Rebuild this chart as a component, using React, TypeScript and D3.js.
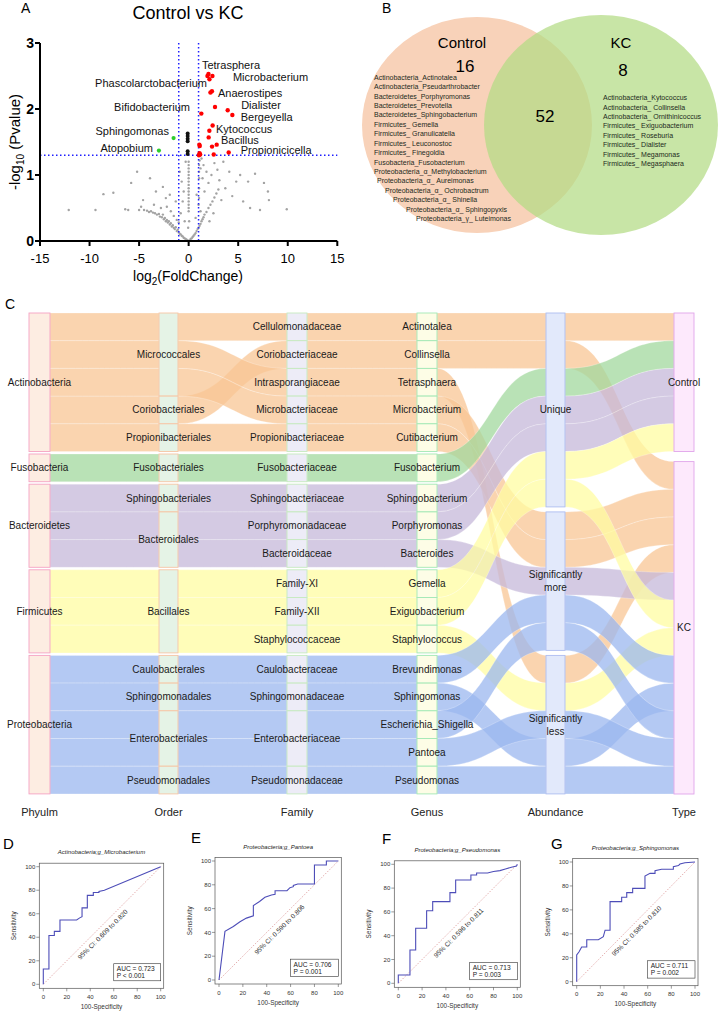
import React from 'react'
import * as d3 from 'd3'

const FONT = 'Liberation Sans, Arial, sans-serif'

// ---------- A: volcano ----------
const volcanoTicksX = [-15, -10, -5, 0, 5, 10, 15]
const volcanoTicksY = [0, 1, 2, 3]
const upPoints = [
	[1.9, 2.5], [2.1, 2.45], [2.4, 2.5], [2.0, 2.53], [2.2, 2.25], [2.35, 2.27],
	[2.66, 2.03], [1.28, 1.93], [3.94, 1.98], [4.41, 1.91], [2.42, 1.75], [2.09, 1.67],
	[2.02, 1.57], [1.08, 1.46], [1.12, 1.44], [2.83, 1.46], [2.36, 1.43], [1.1, 1.33],
	[1.16, 1.31], [1.04, 1.3], [2.53, 1.31], [4.04, 1.34]
]
const downPoints = [[-1.52, 1.56], [-3.0, 1.37]]
const nsPoints = [[-0.1, 1.63], [-0.1, 1.59], [-0.1, 1.55], [-0.1, 1.51], [-0.1, 1.36], [-0.1, 1.32]]
const grayPoints = [
	[-4.5, 0.47], [-4.2, 0.46], [-4.0, 0.44], [-3.8, 0.45], [-3.6, 0.43], [-3.4, 0.42], [-3.2, 0.4],
	[-3.0, 0.41], [-2.9, 0.37], [-2.7, 0.36], [-2.6, 0.4], [-2.5, 0.33], [-2.4, 0.35], [-2.3, 0.3],
	[-2.2, 0.32], [-2.1, 0.28], [-2.0, 0.3], [-1.9, 0.25], [-1.8, 0.27], [-1.7, 0.22], [-1.6, 0.24],
	[-1.5, 0.2], [-1.4, 0.18], [-1.3, 0.21], [-1.2, 0.15], [-1.1, 0.17], [-1.0, 0.13], [-0.9, 0.11],
	[-0.8, 0.1], [-0.7, 0.08], [-0.6, 0.07], [-0.5, 0.05], [-0.4, 0.04], [-0.3, 0.03], [-0.2, 0.02],
	[-0.1, 0.01], [-3.5, 0.55], [-2.8, 0.5], [-2.2, 0.52], [-1.8, 0.45], [-1.5, 0.38], [-1.2, 0.32],
	[-1.0, 0.28], [-0.8, 0.42], [-0.6, 0.6], [-0.7, 0.9], [-0.5, 0.75], [-0.4, 0.3], [-1.3, 0.6],
	[-1.9, 0.7], [-0.9, 1.05], [-0.3, 1.2], [-12.1, 0.47], [-9.4, 0.47], [-8.6, 0.71], [-7.6, 0.73],
	[-6.4, 0.48], [-6.1, 0.47], [-5.8, 0.88], [-5.2, 1.05], [-5.0, 0.47], [-4.8, 0.52], [-4.6, 0.62],
	[-3.9, 0.95], [-3.3, 0.75], [-2.6, 0.82], [-2.3, 0.65], [0.1, 0.01], [0.2, 0.03], [0.3, 0.04],
	[0.4, 0.06], [0.5, 0.08], [0.6, 0.1], [0.7, 0.12], [0.8, 0.15], [0.9, 0.18], [1.0, 0.2], [1.1, 0.23],
	[1.2, 0.26], [1.3, 0.3], [1.4, 0.33], [1.5, 0.36], [1.6, 0.4], [1.8, 0.44], [2.0, 0.5], [2.2, 0.55],
	[2.4, 0.6], [2.6, 0.66], [2.8, 0.72], [3.0, 0.78], [1.1, 1.22], [1.3, 1.25], [1.2, 1.1], [1.5, 1.15],
	[1.4, 0.95], [1.8, 1.05], [2.0, 0.88], [1.6, 0.75], [2.3, 1.0], [2.6, 1.18], [2.9, 1.08], [3.1, 0.92],
	[3.3, 0.62], [3.5, 1.2], [3.7, 0.8], [4.1, 1.05], [4.4, 0.68], [4.8, 0.9], [5.2, 1.0], [5.5, 0.6],
	[6.0, 0.9], [6.2, 0.5], [6.7, 1.02], [7.2, 0.47], [7.6, 0.88], [8.0, 0.75], [8.1, 0.62], [9.9, 0.48],
	[1.0, 0.55], [0.8, 0.7], [0.7, 0.35], [1.2, 0.45], [2.1, 0.3], [2.5, 0.42], [0, 0.45], [0, 0.5],
	[0, 0.55], [0, 0.6], [0, 0.65], [0, 0.7], [0, 0.75], [0, 0.8], [0, 0.85], [0, 0.9], [0, 0.95],
	[0, 1.0], [0, 1.05], [0, 1.1], [0, 1.15], [0, 1.2], [0.05, 0.3], [-0.05, 0.2], [1.05, 0.65],
	[1.05, 0.8], [1.05, 0.95], [1.05, 1.05], [1.05, 1.15]
]
const volcanoLabels = [
	{ text: 'Tetrasphera', x: 1.34, y: 2.67, anchor: 'start' },
	{ text: 'Microbacterium', x: 4.47, y: 2.49, anchor: 'start' },
	{ text: 'Phascolarctobacterium', x: 1.85, y: 2.39, anchor: 'end' },
	{ text: 'Anaerostipes', x: 2.96, y: 2.24, anchor: 'start' },
	{ text: 'Bifidobacterium', x: 0.13, y: 2.03, anchor: 'end' },
	{ text: 'Dialister', x: 5.3, y: 2.06, anchor: 'start' },
	{ text: 'Bergeyella', x: 5.25, y: 1.88, anchor: 'start' },
	{ text: 'Kytococcus', x: 2.76, y: 1.7, anchor: 'start' },
	{ text: 'Sphingomonas', x: -1.99, y: 1.67, anchor: 'end' },
	{ text: 'Bacillus', x: 3.26, y: 1.53, anchor: 'start' },
	{ text: 'Atopobium', x: -3.6, y: 1.41, anchor: 'end' },
	{ text: 'Propionicicella', x: 5.25, y: 1.38, anchor: 'start' }
]

// ---------- B: venn ----------
const vennSets = ['Control', 'KC']
const vennCounts = [16, 8, 52]
const controlOnly = [
	'Actinobacteria_Actinotalea', 'Actinobacteria_Pseudarthrobacter', 'Bacteroidetes_Porphyromonas',
	'Bacteroidetes_Prevotella', 'Bacteroidetes_Sphingobacterium', 'Firmicutes_ Gemella',
	'Firmicutes_ Granulicatella', 'Firmicutes_ Leuconostoc', 'Firmicutes_ Finegoldia',
	'Fusobacteria_Fusobacterium', 'Proteobacteria_α_Methylobacterium', 'Proteobacteria_α_ Aureimonas',
	'Proteobacteria_α_ Ochrobactrum', 'Proteobacteria_α_ Shinella', 'Proteobacteria_α_ Sphingopyxis',
	'Proteobacteria_γ_ Luteimonas'
]
const kcOnly = [
	'Actinobacteria_Kytococcus', 'Actinobacteria_ Collinsella', 'Actinobacteria_ Ornithinicoccus',
	'Firmicutes_ Exiguobacterium', 'Firmicutes_ Roseburia', 'Firmicutes_ Dialister',
	'Firmicutes_ Megamonas', 'Firmicutes_ Megasphaera'
]

// ---------- C: sankey ----------
const phyla = ['Actinobacteria', 'Fusobacteria', 'Bacteroidetes', 'Firmicutes', 'Proteobacteria']
const orders = [
	'Micrococcales', 'Coriobacteriales', 'Propionibacteriales', 'Fusobacteriales', 'Sphingobacteriales',
	'Bacteroidales', 'Bacillales', 'Caulobacterales', 'Sphingomonadales', 'Enterobacteriales', 'Pseudomonadales'
]
const families = [
	'Cellulomonadaceae', 'Coriobacteriaceae', 'Intrasporangiaceae', 'Microbacteriaceae', 'Propionibacteriaceae',
	'Fusobacteriaceae', 'Sphingobacteriaceae', 'Porphyromonadaceae', 'Bacteroidaceae', 'Family-XI',
	'Family-XII', 'Staphylococcaceae', 'Caulobacteraceae', 'Sphingomonadaceae', 'Enterobacteriaceae',
	'Pseudomonadaceae'
]
const genera = [
	'Actinotalea', 'Collinsella', 'Tetrasphaera', 'Microbacterium', 'Cutibacterium', 'Fusobacterium',
	'Sphingobacterium', 'Porphyromonas', 'Bacteroides', 'Gemella', 'Exiguobacterium', 'Staphylococcus',
	'Brevundimonas', 'Sphingomonas', 'Escherichia_Shigella', 'Pantoea', 'Pseudomonas'
]
const abundance = ['Unique', 'Significantly more', 'Significantly less']
const types = ['Control', 'KC']
const genusPhylum = [0, 0, 0, 0, 0, 1, 2, 2, 2, 3, 3, 3, 4, 4, 4, 4, 4]
const genusOrder = [0, 1, 0, 0, 2, 3, 4, 5, 5, 6, 6, 6, 7, 8, 9, 9, 10]
const genusFamily = [0, 1, 2, 3, 4, 5, 6, 7, 8, 9, 10, 11, 12, 13, 14, 14, 15]
const genusAbundance = [0, 0, 2, 1, 1, 0, 0, 0, 1, 0, 0, 2, 1, 2, 1, 2, 2]
const genusType = [0, 1, 1, 1, 1, 0, 0, 0, 1, 0, 1, 1, 1, 1, 1, 1, 1]
const abundanceLaneOrder = [
	'Actinotalea', 'Collinsella', 'Fusobacterium', 'Sphingobacterium', 'Porphyromonas', 'Gemella',
	'Exiguobacterium', 'Microbacterium', 'Cutibacterium', 'Bacteroides', 'Brevundimonas',
	'Escherichia_Shigella', 'Tetrasphaera', 'Staphylococcus', 'Pantoea', 'Sphingomonas', 'Pseudomonas'
]
const typeLaneOrder = [
	'Actinotalea', 'Fusobacterium', 'Sphingobacterium', 'Porphyromonas', 'Gemella', 'Collinsella',
	'Microbacterium', 'Cutibacterium', 'Tetrasphaera', 'Bacteroides', 'Exiguobacterium', 'Staphylococcus',
	'Brevundimonas', 'Sphingomonas', 'Escherichia_Shigella', 'Pantoea', 'Pseudomonas'
]
const columnTitles = ['Phyulm', 'Order', 'Family', 'Genus', 'Abundance', 'Type']

// ---------- D-G: ROC ----------
const rocD = [
	[0, 0], [0, 13], [4.8, 13], [4.8, 41.5], [9.4, 41.5], [9.4, 45], [14.2, 45], [14.2, 54.7], [28.4, 54.7],
	[31, 56.5], [33, 57.5], [33, 65], [37.5, 65], [37.5, 75.6], [42.6, 75.6], [42.6, 78], [47.4, 78],
	[47.4, 79], [52, 80], [100, 100]
]
const rocE = [
	[0, 0], [5, 40.9], [12, 45], [17.6, 49], [23, 52], [28.8, 54], [28.8, 62.5], [34, 66], [38.5, 69.5],
	[44, 71.4], [47, 72], [47, 75], [57, 75], [59.5, 77.6], [62.3, 78.4], [62.3, 79.5], [66, 80.7],
	[80, 80.7], [80, 96.6], [90, 96.6], [90, 100], [100, 100]
]
const rocF = [
	[0, 0], [0, 7], [9.8, 7], [9.8, 28], [14.6, 28], [14.6, 46.2], [23.8, 46.2], [23.8, 61], [28.9, 61],
	[28.9, 68.6], [43.4, 68.6], [43.4, 76.2], [48.2, 76.2], [48.2, 86.8], [61, 86.8], [61, 91], [65.8, 91],
	[65.8, 92.7], [75, 92.7], [80, 94], [85.4, 94.7], [90, 96], [95, 97.5], [99.4, 98.6], [100, 100]
]
const rocG = [
	[0, 0], [0, 22.3], [2, 25], [4.2, 29], [8.5, 29], [8.5, 35], [18.3, 35], [22.5, 37.6], [24, 43],
	[28.2, 43], [28.2, 66.9], [38, 66.9], [38, 70.5], [42.3, 70.5], [42.3, 74.4], [47.3, 74.4], [47.3, 78],
	[57.7, 78], [57.7, 88.3], [62, 90.5], [66.2, 90.5], [66.2, 92.8], [71.8, 93.9], [81.7, 93.9],
	[81.7, 96], [86, 97], [87.3, 98.3], [91.5, 99.4], [100, 100]
]
const rocTitles = [
	'Actinobacteria;g_Microbacterium', 'Proteobacteria;g_Pantoea', 'Proteobacteria;g_Pseudomonas',
	'Proteobacteria;g_Sphingomonas'
]
const rocAuc = ['AUC = 0.723', 'AUC = 0.706', 'AUC = 0.713', 'AUC = 0.711']
const rocP = ['P < 0.001', 'P = 0.001', 'P = 0.003', 'P = 0.002']
const rocCI = [
	'95% CI: 0.609 to 0.820', '95% CI: 0.590 to 0.806', '95% CI: 0.596 to 0.811', '95% CI: 0.585 to 0.810'
]
const rocTicks = [0, 20, 40, 60, 80, 100]

// ---------------------------------------------------------------

const Volcano = () => {
	const x = d3.scaleLinear().domain([-15, 15]).range([40, 337.3])
	const y = d3.scaleLinear().domain([0, 3]).range([241, 43])
	const blue = '#1f1fff'
	return (
		<g>
			<text x={21} y={13} fontSize={14} fontFamily={FONT}>A</text>
			<text x={188} y={19} fontSize={18} textAnchor="middle" fontFamily={FONT}>Control vs KC</text>
			{grayPoints.map((d, i) => (
				<circle key={'g' + i} cx={x(d[0])} cy={y(d[1])} r={1.2} fill="#a3a3a3" />
			))}
			<line x1={x(-1)} x2={x(-1)} y1={y(3)} y2={y(0)} stroke={blue} strokeWidth={1.5} strokeDasharray="1.5 2.5" />
			<line x1={x(1)} x2={x(1)} y1={y(3)} y2={y(0)} stroke={blue} strokeWidth={1.5} strokeDasharray="1.5 2.5" />
			<line x1={x(-15)} x2={x(15)} y1={y(1.3)} y2={y(1.3)} stroke={blue} strokeWidth={1.5} strokeDasharray="1.5 2.5" />
			{nsPoints.map((d, i) => (
				<circle key={'n' + i} cx={x(d[0])} cy={y(d[1])} r={2} fill="#111" />
			))}
			{downPoints.map((d, i) => (
				<circle key={'d' + i} cx={x(d[0])} cy={y(d[1])} r={2.1} fill="#2ecc2e" />
			))}
			{upPoints.map((d, i) => (
				<circle key={'u' + i} cx={x(d[0])} cy={y(d[1])} r={2.2} fill="#ff0000" />
			))}
			{volcanoLabels.map(l => (
				<text key={l.text} x={x(l.x)} y={y(l.y)} dy="0.35em" fontSize={11} textAnchor={l.anchor}
					fontFamily={FONT} fill="#111">{l.text}</text>
			))}
			<line x1={x(-15)} x2={x(15)} y1={y(0)} y2={y(0)} stroke="#000" strokeWidth={2} />
			<line x1={x(-15)} x2={x(-15)} y1={y(0) + 1} y2={y(3)} stroke="#000" strokeWidth={2} />
			{volcanoTicksX.map(t => (
				<g key={'tx' + t}>
					<line x1={x(t)} x2={x(t)} y1={y(0)} y2={y(0) + 5} stroke="#000" strokeWidth={2} />
					<text x={x(t)} y={263} fontSize={13} textAnchor="middle" fontFamily={FONT}>{t}</text>
				</g>
			))}
			{volcanoTicksY.map(t => (
				<g key={'ty' + t}>
					<line x1={x(-15) - 5} x2={x(-15)} y1={y(t)} y2={y(t)} stroke="#000" strokeWidth={2} />
					<text x={34} y={y(t)} dy="0.36em" fontSize={14} fontWeight="bold" textAnchor="end" fontFamily={FONT}>{t}</text>
				</g>
			))}
			<text x={188} y={281} fontSize={14} textAnchor="middle" fontFamily={FONT}>
				log<tspan dy={4} fontSize={10}>2</tspan><tspan dy={-4}>(FoldChange)</tspan>
			</text>
			<text transform="translate(20,142) rotate(-90)" fontSize={15} textAnchor="middle" fontFamily={FONT}>
				-log<tspan dy={4} fontSize={10}>10</tspan><tspan dy={-4}> (Pvalue)</tspan>
			</text>
		</g>
	)
}

const Venn = () => {
	const controlIndent = [0, 0, 0, 0, 0, 0, 0, 0, 0, 0, 0, 3, 11, 19, 32, 42]
	return (
		<g fontFamily={FONT}>
			<text x={382} y={13} fontSize={14}>B</text>
			<ellipse cx={477} cy={125} rx={115} ry={108} fill="#f8d2b9" />
			<ellipse cx={601} cy={125} rx={117} ry={110} fill="#b3db84" fillOpacity={0.72} />
			<text x={462} y={48} fontSize={15} textAnchor="middle">{vennSets[0]}</text>
			<text x={621} y={48} fontSize={15} textAnchor="middle">{vennSets[1]}</text>
			<text x={465} y={72} fontSize={17} textAnchor="middle">{vennCounts[0]}</text>
			<text x={623} y={76} fontSize={17} textAnchor="middle">{vennCounts[1]}</text>
			<text x={545} y={122} fontSize={17} textAnchor="middle">{vennCounts[2]}</text>
			{controlOnly.map((s, i) => (
				<text key={s} x={374 + controlIndent[i]} y={77.3 + i * 9.43} dy="0.35em" fontSize={7} fill="#1c2a1c">{s}</text>
			))}
			{kcOnly.map((s, i) => (
				<text key={s} x={603} y={97.7 + i * 9.4} dy="0.35em" fontSize={7} fill="#1c2a1c">{s}</text>
			))}
		</g>
	)
}

const ribbon = (xa: number, ya: number, xb: number, yb: number, h: number) => {
	const xm = (xa + xb) / 2
	const p = d3.path()
	p.moveTo(xa, ya)
	p.bezierCurveTo(xm, ya, xm, yb, xb, yb)
	p.lineTo(xb, yb + h)
	p.bezierCurveTo(xm, yb + h, xm, ya + h, xa, ya + h)
	p.closePath()
	return p.toString()
}

const Sankey = () => {
	const U = 27.7
	const TOP = 313
	const colX = [[29, 50], [159, 178], [287, 307], [417, 437], [546, 565], [674, 694]]
	const flowColors = ['#f8c694', '#a2d89e', '#c5b8da', '#fffca2', '#9bb7ef']
	const nodeFill = ['#fdebdf', '#e3f2e4', '#eceaf6', '#fdfde4', '#e0e7fb', '#fde7fc']
	const nodeStroke = ['#f5a3c3', '#f6c5a5', '#c6eabf', '#a3e8b5', '#adbdf0', '#e0a5ea']
	const gi = d3.range(genera.length)
	const rankIn = (list: string[]) => (g: number) => list.indexOf(genera[g])

	const columns = [
		{ names: phyla, of: genusPhylum, key: (g: number) => [genusPhylum[g], genusOrder[g], g], grp: genusPhylum, gap: 2.5 },
		{ names: orders, of: genusOrder, key: (g: number) => [genusOrder[g], g], grp: genusPhylum, gap: 2.5 },
		{ names: families, of: genusFamily, key: (g: number) => [genusFamily[g], g], grp: genusPhylum, gap: 2.5 },
		{ names: genera, of: gi, key: (g: number) => [g], grp: genusPhylum, gap: 2.5 },
		{ names: abundance, of: genusAbundance, key: (g: number) => [rankIn(abundanceLaneOrder)(g)], grp: genusAbundance, gap: 5 },
		{ names: types, of: genusType, key: (g: number) => [rankIn(typeLaneOrder)(g)], grp: genusType, gap: 10.1 }
	]

	const laneY = columns.map(c => {
		const sorted = gi.slice().sort((a, b) => {
			const ka = c.key(a), kb = c.key(b)
			for (let i = 0; i < ka.length; i++) if (ka[i] !== kb[i]) return ka[i] - kb[i]
			return 0
		})
		const ys: number[] = []
		sorted.forEach((g, r) => { ys[g] = TOP + r * U + c.grp[g] * c.gap })
		return ys
	})

	const nodes = columns.flatMap((c, ci) =>
		c.names.map((name, ni) => {
			const members = gi.filter(g => c.of[g] === ni)
			const y0 = d3.min(members, g => laneY[ci][g]) as number
			const y1 = (d3.max(members, g => laneY[ci][g]) as number) + U
			return { ci, name, y0, y1 }
		})
	)

	const links = d3.range(columns.length - 1).flatMap(ci =>
		gi.map(g => ({ ci, g, d: ribbon(colX[ci][1], laneY[ci][g], colX[ci + 1][0], laneY[ci + 1][g], U) }))
	)

	return (
		<g fontFamily={FONT}>
			<text x={5} y={309} fontSize={14}>C</text>
			{links.map(l => (
				<path key={l.ci + '-' + l.g} d={l.d} fill={flowColors[genusPhylum[l.g]]} fillOpacity={0.75}
					stroke="#fff" strokeWidth={0.5} strokeOpacity={0.5} />
			))}
			{nodes.map(n => (
				<rect key={n.ci + n.name} x={colX[n.ci][0]} y={n.y0} width={colX[n.ci][1] - colX[n.ci][0]}
					height={n.y1 - n.y0} fill={nodeFill[n.ci]} fillOpacity={0.92} stroke={nodeStroke[n.ci]} strokeWidth={0.9} />
			))}
			{nodes.map(n => {
				const cx = (colX[n.ci][0] + colX[n.ci][1]) / 2
				const cy = (n.y0 + n.y1) / 2
				const lines = n.ci === 4 && n.name.startsWith('Significantly') ? n.name.split(' ') : [n.name]
				return (
					<text key={'t' + n.ci + n.name} x={cx} y={cy - (lines.length - 1) * 6.5}
						fontSize={10} textAnchor="middle" fill="#1a1a1a">
						{lines.map((s, i) => (
							<tspan key={s} x={cx} dy={i === 0 ? '0.35em' : 13}>{s}</tspan>
						))}
					</text>
				)
			})}
			{columnTitles.map((t, i) => (
				<text key={t} x={(colX[i][0] + colX[i][1]) / 2} y={816} fontSize={11} textAnchor="middle" fill="#222">{t}</text>
			))}
		</g>
	)
}

const RocPanel = ({ data, idx, letter, lx, ly, x0, x1, y0, y1 }: any) => {
	const x = d3.scaleLinear().domain([0, 100]).range([x0, x1])
	const y = d3.scaleLinear().domain([0, 100]).range([y0, y1])
	const line = d3.line<number[]>().x(d => x(d[0])).y(d => y(d[1]))
	const left = x0 - 4, right = x1 + 3, top = y1 - 3.5, bottom = y0 + 4
	const ciX = x(52), ciY = y(41)
	const angle = (Math.atan2(y(100) - y(0), x(100) - x(0)) * 180) / Math.PI
	return (
		<g fontFamily={FONT}>
			<text x={lx} y={ly} fontSize={15}>{letter}</text>
			<text x={(left + right) / 2} y={top - 11} dy="0.35em" fontSize={6} fontStyle="italic" textAnchor="middle" fill="#222">{rocTitles[idx]}</text>
			<rect x={left} y={top} width={right - left} height={bottom - top} fill="#fff" stroke="#555" strokeWidth={0.7} />
			<line x1={x(0)} y1={y(0)} x2={x(100)} y2={y(100)} stroke="#d98c8c" strokeWidth={0.7} strokeDasharray="1.5 1.5" />
			<path d={line(data) as string} fill="none" stroke="#4d4db8" strokeWidth={1.1} />
			<text transform={`translate(${ciX},${ciY}) rotate(${angle})`} fontSize={6.6} textAnchor="middle" fill="#333">{rocCI[idx]}</text>
			<rect x={x(60)} y={y(17.5)} width={x(100) - x(60)} height={y(3) - y(17.5)} fill="#fff" stroke="#333" strokeWidth={0.6} />
			<text x={x(60) + 3} y={y(13.2)} dy="0.35em" fontSize={6.6} fill="#222">{rocAuc[idx]}</text>
			<text x={x(60) + 3} y={y(7.4)} dy="0.35em" fontSize={6.6} fill="#222">{rocP[idx]}</text>
			{rocTicks.map(t => (
				<g key={t}>
					<line x1={left - 3} x2={left} y1={y(t)} y2={y(t)} stroke="#555" strokeWidth={0.6} />
					<text x={left - 4} y={y(t)} dy="0.35em" fontSize={6} textAnchor="end" fill="#333">{t}</text>
					<line x1={x(t)} x2={x(t)} y1={bottom} y2={bottom + 3} stroke="#555" strokeWidth={0.6} />
					<text x={x(t)} y={bottom + 10.5} fontSize={6} textAnchor="middle" fill="#333">{t}</text>
				</g>
			))}
			<text x={(left + right) / 2} y={bottom + 20.5} fontSize={6.4} textAnchor="middle" fill="#333">100-Specificity</text>
			<text transform={`translate(${left - 23},${(top + bottom) / 2}) rotate(-90)`} fontSize={6.4} textAnchor="middle" fill="#333">Sensitivity</text>
		</g>
	)
}

const App = () => {
	return (
		<svg width={720} height={1012} style={{ position: 'absolute', left: 0, top: 0, background: '#fff' }}>
			<rect width={720} height={1012} fill="#fff" />
			<Volcano />
			<Venn />
			<Sankey />
			<RocPanel data={rocD} idx={0} letter="D" lx={3} ly={849} x0={43.3} x1={160.7} y0={984.3} y1={866.7} />
			<RocPanel data={rocE} idx={1} letter="E" lx={191} ly={843} x0={219} x1={338.3} y0={980} y1={861} />
			<RocPanel data={rocF} idx={2} letter="F" lx={382} ly={844} x0={398.3} x1={517.3} y0={983.3} y1={864.3} />
			<RocPanel data={rocG} idx={3} letter="G" lx={551} ly={849} x0={576.7} x1={695} y0={981.7} y1={862} />
		</svg>
	)
}

export default App
